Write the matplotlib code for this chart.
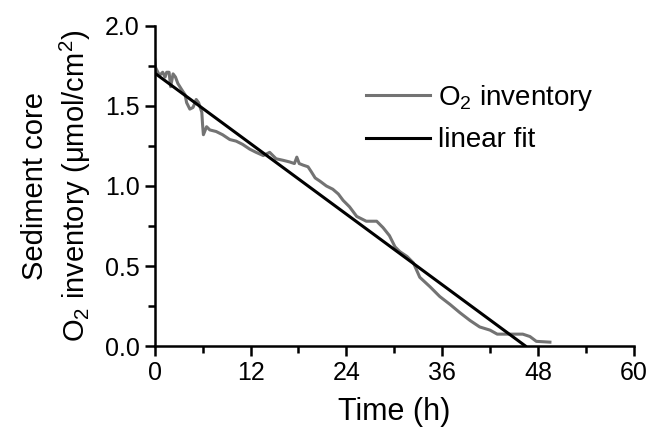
import matplotlib
matplotlib.use("Agg")
import matplotlib.pyplot as plt
from matplotlib.ticker import MultipleLocator

plt.rcParams['font.family'] = ['Liberation Sans', 'DejaVu Sans']
plt.rcParams['mathtext.fontset'] = 'custom'
plt.rcParams['mathtext.rm'] = 'Liberation Sans'
plt.rcParams['mathtext.it'] = 'Liberation Sans:italic'

time_h = [0.0, 0.1, 0.3, 0.6, 1.0, 1.3, 1.5, 1.8, 2.0, 2.3, 2.6, 2.9, 3.4, 3.8, 4.0, 4.4,
          4.8, 5.2, 5.5, 5.9, 6.0, 6.1, 6.5, 6.9, 7.7, 8.5, 9.4, 10.2, 11.0, 11.9, 12.7,
          13.6, 14.4, 15.2, 16.1, 16.9, 17.5, 17.8, 18.1, 18.6, 19.2, 19.6, 20.1, 20.7,
          21.5, 22.3, 23.0, 23.6, 24.4, 25.3, 26.5, 27.8, 28.6, 29.4, 30.1, 30.7, 31.6,
          32.4, 33.2, 34.5, 35.7, 37.0, 38.2, 39.5, 40.7, 42.0, 42.9, 44.1, 46.1, 47.0,
          47.8, 49.5]
o2_inventory = [1.79, 1.74, 1.72, 1.69, 1.71, 1.68, 1.71, 1.71, 1.62, 1.70, 1.68, 1.64,
                1.60, 1.57, 1.52, 1.48, 1.49, 1.54, 1.52, 1.46, 1.38, 1.32, 1.37, 1.35,
                1.34, 1.32, 1.29, 1.28, 1.26, 1.23, 1.21, 1.19, 1.21, 1.17, 1.16, 1.15,
                1.14, 1.18, 1.14, 1.13, 1.12, 1.09, 1.05, 1.03, 1.00, 0.98, 0.95, 0.91,
                0.87, 0.81, 0.78, 0.78, 0.74, 0.69, 0.62, 0.59, 0.56, 0.52, 0.43, 0.37,
                0.31, 0.26, 0.21, 0.16, 0.12, 0.10, 0.075, 0.075, 0.075, 0.06, 0.03, 0.025]

fit_intercept = 1.705
fit_slope = -0.0367
fit_t = [0.0, 46.4]
fit_y = [fit_intercept + fit_slope * t for t in fit_t]

x_ticks = [0, 12, 24, 36, 48, 60]
y_ticks = [0.0, 0.5, 1.0, 1.5, 2.0]

fig = plt.figure(figsize=(6.5, 4.3), dpi=100)
ax = fig.add_axes([0.238, 0.195, 0.737, 0.745])

ax.plot(time_h, o2_inventory, color='#737373', lw=2.2, label='O$_2$ inventory', zorder=2)
ax.plot(fit_t, fit_y, color='black', lw=2.2, label='linear fit', zorder=3)

ax.set_xlim(0, 60)
ax.set_ylim(0, 2.0)
ax.set_xticks(x_ticks)
ax.set_yticks(y_ticks)
ax.set_xticklabels([str(t) for t in x_ticks])
ax.set_yticklabels([f"{v:.1f}" for v in y_ticks])
ax.xaxis.set_minor_locator(MultipleLocator(6))
ax.yaxis.set_minor_locator(MultipleLocator(0.25))

for s in ['top', 'right']:
    ax.spines[s].set_visible(False)
for s in ['left', 'bottom']:
    ax.spines[s].set_linewidth(1.8)

ax.tick_params(which='major', direction='out', length=7, width=1.8, labelsize=18, pad=4)
ax.tick_params(which='minor', direction='out', length=5, width=1.8)

ax.set_xlabel('Time (h)', fontsize=22, labelpad=8)
ax.set_ylabel('Sediment core\nO$_2$ inventory (μmol/cm$^2$)', fontsize=21, labelpad=8,
              linespacing=1.35)

leg = ax.legend(loc='upper left', bbox_to_anchor=(0.418, 0.857), frameon=False, fontsize=20,
                handlelength=2.3, handletextpad=0.3, labelspacing=0.53, borderaxespad=0)

fig.savefig('out.png', dpi=100)
